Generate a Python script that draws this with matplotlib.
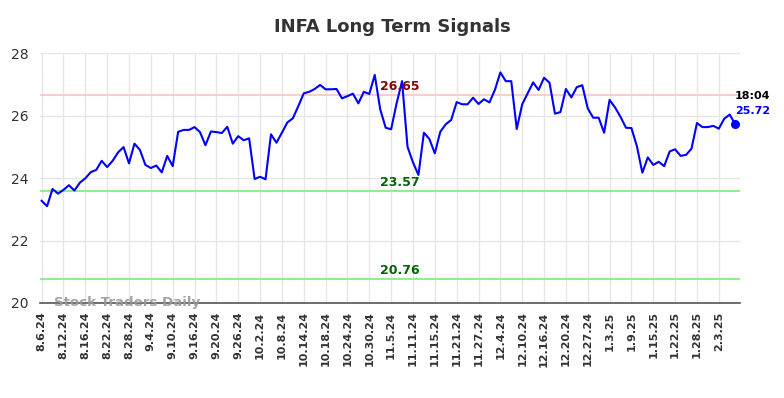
#!/usr/bin/env python3

import matplotlib
matplotlib.use("Agg")
import matplotlib.pyplot as plt

# daily closes, 8.6.24 .. 2.6.25
prices = [
    23.27, 23.10, 23.65, 23.50, 23.62, 23.77, 23.60, 23.85, 23.99, 24.19,
    24.26, 24.55, 24.35, 24.55, 24.82, 24.99, 24.47, 25.10, 24.90, 24.42,
    24.32, 24.40, 24.18, 24.71, 24.38, 25.48, 25.54, 25.54, 25.63, 25.47,
    25.05, 25.49, 25.47, 25.44, 25.64, 25.10, 25.34, 25.21, 25.27, 23.97,
    24.04, 23.96, 25.40, 25.13, 25.45, 25.78, 25.91, 26.30, 26.71, 26.76,
    26.85, 26.98, 26.84, 26.84, 26.85, 26.55, 26.62, 26.70, 26.39, 26.76,
    26.69, 27.30, 26.20, 25.61, 25.56, 26.39, 27.10, 25.00, 24.50, 24.10,
    25.45, 25.25, 24.79, 25.48, 25.72, 25.86, 26.43, 26.36, 26.36, 26.57,
    26.37, 26.52, 26.42, 26.82, 27.38, 27.10, 27.10, 25.57, 26.36, 26.71,
    27.06, 26.82, 27.21, 27.05, 26.06, 26.11, 26.85, 26.58, 26.91, 26.97,
    26.23, 25.93, 25.93, 25.45, 26.50, 26.26, 25.96, 25.61, 25.60,
    25.02, 24.17, 24.66, 24.42, 24.52, 24.38, 24.85, 24.92, 24.71, 24.74,
    24.94, 25.76, 25.63, 25.63, 25.67, 25.58, 25.90, 26.03, 25.72,
]

tick_labels = [
    "8.6.24", "8.12.24", "8.16.24", "8.22.24", "8.28.24", "9.4.24", "9.10.24",
    "9.16.24", "9.20.24", "9.26.24", "10.2.24", "10.8.24", "10.14.24",
    "10.18.24", "10.24.24", "10.30.24", "11.5.24", "11.11.24", "11.15.24",
    "11.21.24", "11.27.24", "12.4.24", "12.10.24", "12.16.24", "12.20.24",
    "12.27.24", "1.3.25", "1.9.25", "1.15.25", "1.22.25", "1.28.25", "2.3.25",
]
tick_step = 4

resistance = 26.65
supports = [23.57, 20.76]
last_time = "18:04"


def main():
    fig = plt.figure(figsize=(7.84, 3.98), dpi=100)
    ax = fig.add_axes([0.051, 0.2387, 0.893, 0.628])

    x = list(range(len(prices)))
    ax.plot(x, prices, color="#0000ff", lw=1.5, zorder=3)
    ax.plot(x[-1], prices[-1], "o", color="#0000ff", ms=5.5, zorder=4)

    ax.axhline(resistance, color="#ffcccc", lw=1.5, zorder=2)
    for s in supports:
        ax.axhline(s, color="#90ee90", lw=1.5, zorder=2)

    xmid = 65.6
    ax.text(xmid, resistance + 0.08, f"{resistance:.2f}", color="#8b0000",
            fontsize=9, fontweight="bold", ha="center", va="bottom")
    for s in supports:
        ax.text(xmid, s + 0.08, f"{s:.2f}", color="#006400",
                fontsize=9, fontweight="bold", ha="center", va="bottom")

    ax.text(x[-1], prices[-1] + 0.75, last_time, color="black", fontsize=8,
            fontweight="bold", ha="left", va="bottom")
    ax.text(x[-1], prices[-1] + 0.28, f"{prices[-1]:.2f}", color="#0000ff",
            fontsize=8, fontweight="bold", ha="left", va="bottom")

    ax.text(2.2, 20.0, "Stock Traders Daily", color="#999999", fontsize=9.6,
            fontweight="bold", ha="left", va="center", alpha=0.9, zorder=5)

    ax.set_xlim(-0.3, 127.9)
    ax.set_ylim(20, 28)
    ax.set_yticks([20, 22, 24, 26, 28])
    ax.set_xticks(list(range(0, tick_step * len(tick_labels), tick_step)))
    ax.set_xticklabels(tick_labels, rotation=90, fontsize=8, fontweight="bold",
                       color="#333333")
    ax.tick_params(axis="y", labelsize=10, colors="#333333", length=0, pad=8)
    ax.tick_params(axis="x", length=0, pad=6)

    ax.grid(True, color="#e6e6e6", lw=1)
    ax.set_axisbelow(True)
    for side in ["top", "right", "left"]:
        ax.spines[side].set_visible(False)
    ax.spines["bottom"].set_color("#555555")
    ax.spines["bottom"].set_linewidth(1.2)

    fig.suptitle("INFA Long Term Signals", x=0.5, y=0.955, fontsize=13,
                 fontweight="bold", color="#333333")

    fig.savefig("out.png", dpi=100)


if __name__ == "__main__":
    main()
